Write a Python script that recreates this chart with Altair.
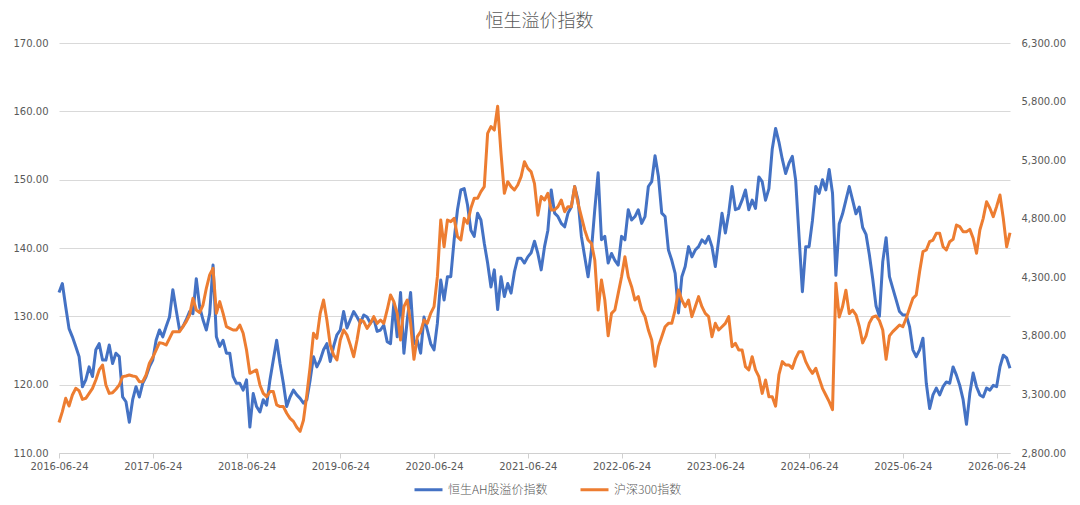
import altair as alt
import pandas as pd

title_text = "恒生溢价指数"
series_names = ["恒生AH股溢价指数", "沪深300指数"]
series_colors = ["#4472C4", "#ED7D31"]
x_tick_labels = ["2016-06-24", "2017-06-24", "2018-06-24", "2019-06-24", "2020-06-24",
                 "2021-06-24", "2022-06-24", "2023-06-24", "2024-06-24", "2025-06-24",
                 "2026-06-24"]
samples_per_label = 28
left_ticks = [110, 120, 130, 140, 150, 160, 170]
right_ticks = [2800, 3300, 3800, 4300, 4800, 5300, 5800, 6300]

# 恒生AH股溢价指数 (left axis), ~13-day steps
ah_premium = [
    133.5, 134.8, 131.4, 128.2, 127.0, 125.6, 124.1, 119.7, 120.7, 122.6,
    121.2, 125.1, 126.0, 123.6, 123.6, 125.8, 123.1, 124.6, 124.1, 118.2,
    117.5, 114.5, 117.8, 119.7, 118.2, 120.2, 121.2, 122.6, 123.6, 126.5,
    128.0, 127.0, 128.5, 129.9, 133.9, 130.9, 128.0, 128.5, 129.5, 130.7,
    130.4, 135.5, 131.4, 129.5, 128.0, 130.4, 137.5, 127.0, 125.6, 126.5,
    124.6, 124.6, 121.2, 120.2, 120.2, 119.2, 120.7, 113.8, 118.7, 116.8,
    116.0, 117.8, 117.0, 120.7, 123.6, 126.5, 123.1, 120.2, 116.8, 118.2,
    119.2, 118.5, 118.0, 117.3, 117.8, 120.7, 124.1, 122.6, 123.6, 125.1,
    126.0, 123.4, 125.6, 127.3, 128.0, 130.7, 128.3, 129.5, 130.7, 129.9,
    129.0, 130.2, 129.9, 129.0, 129.7, 127.8, 128.0, 128.7, 126.3, 126.0,
    131.9, 127.0, 133.5, 124.6, 129.5, 133.5, 126.0, 126.5, 124.6, 129.9,
    128.0, 126.0, 125.1, 129.0, 135.3, 132.4, 135.8, 135.8, 141.2, 145.6,
    148.5, 148.7, 146.3, 142.6, 141.7, 145.1, 144.1, 140.7, 137.8, 134.3,
    136.8, 131.0, 135.8, 132.9, 134.8, 133.4, 136.5, 138.5, 138.5, 137.8,
    138.7, 139.3, 141.0, 139.2, 136.8, 140.2, 142.6, 148.5, 145.1, 144.6,
    143.6, 143.1, 145.1, 146.0, 149.0, 147.0, 141.7, 138.7, 135.8, 139.7,
    145.6, 151.0, 141.2, 141.7, 137.8, 139.2, 138.2, 137.5, 141.7, 141.2,
    145.6, 144.1, 144.6, 145.6, 143.6, 144.6, 149.0, 149.7, 153.5, 150.5,
    145.1, 144.6, 139.7, 138.2, 136.3, 130.5, 135.8, 137.3, 140.2, 138.7,
    139.7, 140.2, 141.2, 140.7, 141.7, 140.2, 137.3, 141.2, 145.1, 142.2,
    145.1, 149.0, 145.6, 145.8, 147.0, 148.5, 145.6, 147.0, 145.8, 150.4,
    149.7, 147.0, 148.7, 154.5, 157.5, 155.5, 153.0, 150.9, 152.4, 153.4,
    149.9, 141.7, 133.6, 140.2, 140.2, 144.0, 149.0, 148.0, 150.0, 148.5,
    151.5, 148.0, 136.0, 143.5, 145.0, 147.0, 149.0, 147.0, 145.0, 146.0,
    143.0, 142.0, 139.0, 135.5, 131.5, 130.0, 138.0, 141.5, 135.8, 134.1,
    132.4, 130.7, 130.2, 130.2, 128.5, 125.1, 124.1, 125.1, 126.8, 120.2,
    116.5, 118.5, 119.5, 118.5, 119.7, 120.4, 120.2, 122.6, 121.4, 119.9,
    117.8, 114.2, 118.7, 121.7, 119.7, 118.5, 118.2, 119.5, 119.2, 119.9,
    119.7, 122.6, 124.3, 123.9, 122.4,
]

# 沪深300指数 (right axis), same steps
csi300 = [
    3060, 3153, 3267, 3201, 3295, 3352, 3332, 3258, 3267, 3309,
    3352, 3423, 3509, 3551, 3381, 3309, 3315, 3344, 3381, 3452,
    3457, 3466, 3457, 3452, 3409, 3409, 3466, 3566, 3617, 3679,
    3742, 3736, 3722, 3779, 3836, 3836, 3836, 3879, 3921, 3978,
    4120, 4021, 3998, 4063, 4206, 4320, 4376, 3992, 4092, 3992,
    3878, 3864, 3850, 3850, 3893, 3822, 3679, 3480, 3494, 3509,
    3381, 3309, 3281, 3324, 3324, 3210, 3196, 3196, 3139, 3096,
    3070, 3020, 2985, 3080, 3295, 3537, 3822, 3779, 3992, 4106,
    3935, 3722, 3637, 3594, 3765, 3850, 3807, 3722, 3622, 3765,
    3935, 3921, 3864, 3907, 3964, 3907, 3935, 3907, 4021, 4149,
    4092, 3992, 3765, 4049, 4106, 3907, 3600, 3793, 3836, 3935,
    3907, 3992, 4049, 4305, 4789, 4561, 4789, 4775, 4803, 4647,
    4618, 4803, 4761, 4889, 4974, 4974, 5031, 5074, 5529, 5586,
    5557, 5760, 5358, 5017, 5116, 5074, 5045, 5088, 5159, 5287,
    5230, 5200, 5100, 4830, 4990, 4960, 5017, 4874, 4874, 4903,
    4960, 4860, 4903, 4903, 5074, 4931, 4817, 4704, 4618, 4590,
    4448, 4020, 4277, 4106, 3800, 3992, 4021, 4163, 4305, 4476,
    4305, 4220, 4106, 4135, 4021, 3964, 3850, 3765, 3540, 3708,
    3793, 3878, 3907, 3907, 4021, 4191, 4106, 4049, 4106, 3964,
    4049, 4135, 4049, 3992, 3964, 3793, 3907, 3850, 3878, 3907,
    3964, 3708, 3736, 3679, 3679, 3537, 3509, 3622, 3509, 3452,
    3309, 3423, 3281, 3280, 3200, 3470, 3580, 3551, 3551, 3523,
    3608, 3665, 3665, 3580, 3523, 3480, 3523, 3437, 3352, 3295,
    3238, 3170, 4250, 3960, 4050, 4190, 3990, 4020, 3980, 3880,
    3740, 3800, 3910, 3960, 3970, 3930, 3850, 3600, 3800, 3836,
    3864, 3893, 3878, 3950, 4035, 4120, 4149, 4348, 4519, 4533,
    4604, 4618, 4675, 4675, 4561, 4533, 4604, 4624, 4746, 4732,
    4689, 4689, 4709, 4633, 4505, 4704, 4803, 4945, 4889, 4817,
    4903, 5002, 4803, 4560, 4680,
]

n = len(ah_premium)
df = pd.DataFrame({
    "k": list(range(n)) + list(range(len(csi300))),
    "value": ah_premium + csi300,
    "series": [series_names[0]] * n + [series_names[1]] * len(csi300),
})

label_array = "[" + ",".join("'" + s + "'" for s in x_tick_labels) + "]"
tick_positions = [i * samples_per_label for i in range(len(x_tick_labels))]

axis_font = "DejaVu Sans"
cjk_font = "Noto Sans CJK SC"
text_color = "#595959"

x_enc = alt.X(
    "k:Q",
    scale=alt.Scale(domain=[0, n - 1], nice=False, zero=False),
    axis=alt.Axis(
        values=tick_positions,
        labelExpr=label_array + "[round(datum.value/" + str(samples_per_label) + ")]",
        title=None, grid=False, labelFlush=False,
        domainColor="#d0d0d0", tickColor="#d0d0d0", tickSize=5,
        labelFont=axis_font, labelFontSize=10, labelColor=text_color, labelPadding=3,
    ),
)

color_enc = alt.Color(
    "series:N",
    scale=alt.Scale(domain=series_names, range=series_colors),
    legend=alt.Legend(
        title=None, orient="none", direction="horizontal",
        legendX=354, legendY=431, padding=0,
        symbolType="M-1,0H1", symbolSize=784, symbolStrokeWidth=3,
        labelFont=cjk_font, labelFontSize=12, labelColor=text_color,
        labelFontWeight=300, labelOffset=4, columnPadding=26,
    ),
)

blue = alt.Chart(df).transform_filter(
    alt.datum.series == series_names[0]
).mark_line(strokeWidth=3, strokeJoin="round").encode(
    x=x_enc,
    y=alt.Y(
        "value:Q",
        scale=alt.Scale(domain=[left_ticks[0], left_ticks[-1]], nice=False, zero=False),
        axis=alt.Axis(
            orient="left", values=left_ticks, format=".2f", title=None,
            domain=False, ticks=False, gridColor="#d9d9d9", gridWidth=1,
            labelFont=axis_font, labelFontSize=10, labelColor=text_color, labelPadding=11,
        ),
    ),
    color=color_enc,
)

orange = alt.Chart(df).transform_filter(
    alt.datum.series == series_names[1]
).mark_line(strokeWidth=3, strokeJoin="round").encode(
    x=x_enc,
    y=alt.Y(
        "value:Q",
        scale=alt.Scale(domain=[right_ticks[0], right_ticks[-1]], nice=False, zero=False),
        axis=alt.Axis(
            orient="right", values=right_ticks, format=",.2f", title=None,
            domain=False, ticks=False, grid=False,
            labelFont=axis_font, labelFontSize=10, labelColor=text_color, labelPadding=11,
        ),
    ),
    color=color_enc,
)

chart = alt.layer(blue, orange).resolve_scale(y="independent").properties(
    width=951,
    height=410,
    title=alt.TitleParams(
        title_text, fontSize=18, color=text_color, font=cjk_font,
        fontWeight=300, anchor="middle", offset=7, dx=5,
    ),
    padding={"left": 51, "top": 35, "right": 62, "bottom": 44},
    autosize=alt.AutoSizeParams(type="none"),
    background="white",
).configure_view(stroke=None)

chart.save("out.html", embed_options={"renderer": "svg", "actions": False})
